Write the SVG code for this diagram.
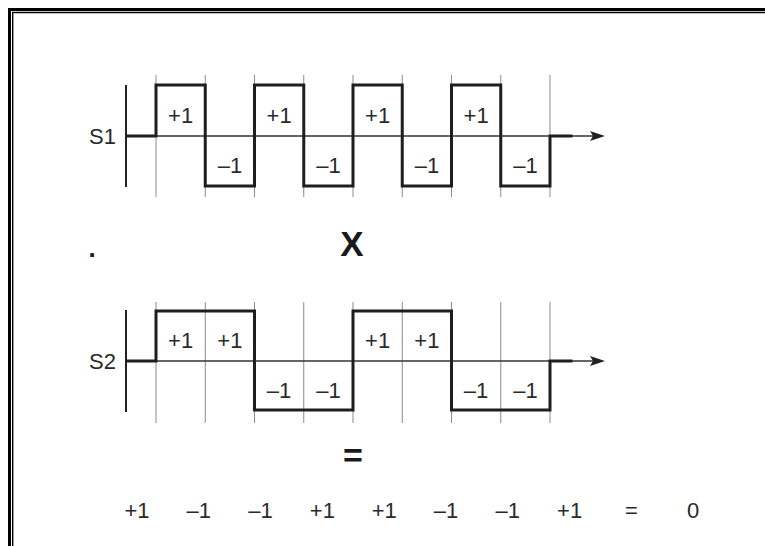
<svg xmlns="http://www.w3.org/2000/svg" width="765" height="546" viewBox="0 0 765 546">
<style>
.lbl{font-family:"Liberation Sans",Arial,sans-serif;font-size:22px;fill:#2a2a2a;text-anchor:middle}
.op{font-family:"Liberation Sans",Arial,sans-serif;font-weight:bold;fill:#1a1a1a;text-anchor:middle}
.grid{stroke:#8a8a8a;stroke-width:1;fill:none}
.axis{stroke:#222;stroke-width:2;fill:none}
.mid{stroke:#333;stroke-width:1.3;fill:none}
.sig{stroke:#1e1e1e;stroke-width:3;fill:none;stroke-linejoin:miter;stroke-linecap:square}
.arrow{fill:#222}
</style>
<rect width="765" height="546" fill="#fff"/>
<g id="border" fill="none" stroke="#000">
<path d="M9.5,546 V9.5 H765" stroke-width="3"/>
<path d="M12.7,546 V12.5 H765" stroke-width="1.4"/>
</g>
<g id="s1">
<g class="grid">
<path d="M156,75V197M205.25,75V197M254.5,75V197M303.75,75V197M353,75V197M402.25,75V197M451.5,75V197M500.75,75V197M550,75V197"/>
</g>
<line class="axis" x1="126" y1="85" x2="126" y2="187"/>
<line class="mid" x1="126" y1="136" x2="596" y2="136"/>
<polygon class="arrow" points="590,131 605,136 590,141 593,136"/>
<path class="sig" d="M127,136 H156 V85 H205.25 V186 H254.5 V85 H303.75 V186 H353 V85 H402.25 V186 H451.5 V85 H500.75 V186 H550 V136 H571"/>
<text class="lbl" x="116" y="144" style="text-anchor:end">S1</text>
<text class="lbl" x="180.6" y="123">+1</text>
<text class="lbl" x="229.9" y="173">–1</text>
<text class="lbl" x="279.1" y="123">+1</text>
<text class="lbl" x="328.4" y="173">–1</text>
<text class="lbl" x="377.6" y="123">+1</text>
<text class="lbl" x="426.9" y="173">–1</text>
<text class="lbl" x="476.1" y="123">+1</text>
<text class="lbl" x="525.4" y="173">–1</text>
</g>
<g id="operators">
<text class="op" x="92" y="257" font-size="26">.</text>
<text class="op" x="352" y="256" font-size="35">X</text>
<text class="op" x="353" y="467" font-size="34">=</text>
</g>
<g id="s2">
<g class="grid">
<path d="M156,302V423M205.25,302V423M254.5,302V423M303.75,302V423M353,302V423M402.25,302V423M451.5,302V423M500.75,302V423M550,302V423"/>
</g>
<line class="axis" x1="126" y1="310" x2="126" y2="412"/>
<line class="mid" x1="126" y1="361" x2="596" y2="361"/>
<polygon class="arrow" points="590,356 605,361 590,366 593,361"/>
<path class="sig" d="M127,361 H156 V311 H254.5 V410 H353 V311 H451.5 V410 H550 V361 H571"/>
<text class="lbl" x="116" y="369" style="text-anchor:end">S2</text>
<text class="lbl" x="180.6" y="348">+1</text>
<text class="lbl" x="229.9" y="348">+1</text>
<text class="lbl" x="279.1" y="398">–1</text>
<text class="lbl" x="328.4" y="398">–1</text>
<text class="lbl" x="377.6" y="348">+1</text>
<text class="lbl" x="426.9" y="348">+1</text>
<text class="lbl" x="476.1" y="398">–1</text>
<text class="lbl" x="525.4" y="398">–1</text>
</g>
<g id="result">
<text class="lbl" x="137" y="518">+1</text>
<text class="lbl" x="198.8" y="518">–1</text>
<text class="lbl" x="260.6" y="518">–1</text>
<text class="lbl" x="322.4" y="518">+1</text>
<text class="lbl" x="384.2" y="518">+1</text>
<text class="lbl" x="446" y="518">–1</text>
<text class="lbl" x="507.8" y="518">–1</text>
<text class="lbl" x="569.6" y="518">+1</text>
<text class="lbl" x="631.4" y="518">=</text>
<text class="lbl" x="693.2" y="518">0</text>
</g>
</svg>
